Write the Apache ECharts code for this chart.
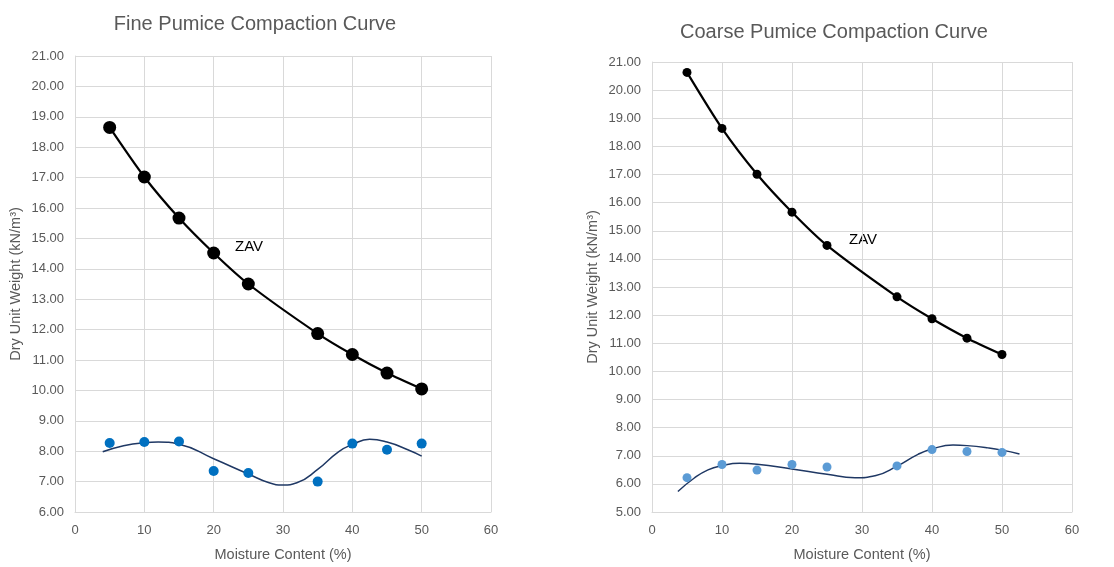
<!DOCTYPE html>
<html>
<head>
<meta charset="utf-8">
<script src="https://cdn.jsdelivr.net/npm/echarts@6/dist/echarts.min.js"></script>
<style>html,body{margin:0;padding:0;background:#fff}#c{width:1114px;height:567px}</style>
</head>
<body>
<div id="c"></div>
<script>
// ---------- data ----------
const fineMoisture = [5, 10, 15, 20, 25, 35, 40, 45, 50];
const fineZAV = [18.65, 17.02, 15.67, 14.52, 13.50, 11.87, 11.18, 10.57, 10.05];
const fineDry = [8.27, 8.30, 8.32, 7.35, 7.28, 7.00, 8.25, 8.05, 8.25];
const fineTrendX = [4, 7, 10, 12, 15, 20, 25, 28, 30, 32, 35, 38, 40, 42.5, 45, 48, 50];
const fineTrendY = [7.98, 8.18, 8.28, 8.30, 8.23, 7.75, 7.25, 6.96, 6.89, 6.96, 7.40, 7.98, 8.22, 8.39, 8.30, 8.05, 7.84];

const coarseMoisture = [5, 10, 15, 20, 25, 35, 40, 45, 50];
const coarseZAV = [20.63, 18.64, 17.01, 15.66, 14.48, 12.65, 11.87, 11.18, 10.60];
const coarseDry = [6.22, 6.69, 6.49, 6.69, 6.60, 6.64, 7.22, 7.15, 7.12];
const coarseTrendX = [3.7, 6, 8, 10, 12.5, 15, 20, 25, 29, 32, 35, 38, 40, 43, 45, 48, 50, 52.5];
const coarseTrendY = [5.73, 6.20, 6.50, 6.65, 6.73, 6.70, 6.53, 6.34, 6.22, 6.30, 6.63, 7.05, 7.24, 7.38, 7.36, 7.28, 7.20, 7.06];

const fineTitle = 'Fine Pumice Compaction Curve';
const coarseTitle = 'Coarse Pumice Compaction Curve';
const xName = 'Moisture Content (%)';
const yName = 'Dry Unit Weight (kN/m³)';

// ---------- chart ----------
const zip = (a, b) => a.map((v, i) => [v, b[i]]);
const FONT = 'Liberation Sans';
const GRAY = '#595959';
const GRID = '#d9d9d9';

function xAxis(gi) {
  return {
    gridIndex: gi, type: 'value', min: 0, max: 60, interval: 10,
    name: xName, nameLocation: 'middle', nameGap: 35,
    nameTextStyle: { color: GRAY, fontSize: 14.5, fontFamily: FONT },
    axisLine: { show: true, lineStyle: { color: GRID } },
    axisTick: { show: false },
    axisLabel: { color: GRAY, fontSize: 13, fontFamily: FONT, margin: 12 },
    splitLine: { show: true, lineStyle: { color: GRID, width: 1 } }
  };
}
function yAxis(gi, min) {
  return {
    gridIndex: gi, type: 'value', min: min, max: 21, interval: 1,
    name: yName, nameLocation: 'middle', nameGap: 52,
    nameTextStyle: { color: GRAY, fontSize: 14.5, fontFamily: FONT },
    axisLine: { show: true, lineStyle: { color: GRID } },
    axisTick: { show: false },
    axisLabel: { color: GRAY, fontSize: 13, fontFamily: FONT, margin: 11, formatter: v => v.toFixed(2) },
    splitLine: { show: true, lineStyle: { color: GRID, width: 1 } }
  };
}

const option = {
  animation: false,
  backgroundColor: '#fff',
  title: [
    { text: fineTitle, left: 250, top: 9, textAlign: 'center',
      textStyle: { color: GRAY, fontSize: 20, fontWeight: 'normal', fontFamily: FONT } },
    { text: coarseTitle, left: 829, top: 17, textAlign: 'center',
      textStyle: { color: GRAY, fontSize: 20, fontWeight: 'normal', fontFamily: FONT } }
  ],
  grid: [
    { left: 75, right: 623, top: 56, bottom: 53 },
    { left: 652, right: 42, top: 62, bottom: 52 }
  ],
  xAxis: [xAxis(0), xAxis(1)],
  yAxis: [yAxis(0, 6), yAxis(1, 5)],
  graphic: [
    { type: 'text', left: 235, top: 239, style: { text: 'ZAV', fill: '#000', font: '15px ' + FONT } },
    { type: 'text', left: 849, top: 232, style: { text: 'ZAV', fill: '#000', font: '15px ' + FONT } }
  ],
  series: [
    { type: 'line', xAxisIndex: 0, yAxisIndex: 0, data: zip(fineTrendX, fineTrendY), smooth: true,
      showSymbol: false, symbol: 'none', lineStyle: { color: '#1f3864', width: 1.5 }, z: 2 },
    { type: 'scatter', xAxisIndex: 0, yAxisIndex: 0, data: zip(fineMoisture, fineDry),
      symbolSize: 10, itemStyle: { color: '#0070c0', opacity: 1 }, z: 3 },
    { type: 'line', xAxisIndex: 0, yAxisIndex: 0, data: zip(fineMoisture, fineZAV), smooth: 0.25,
      symbol: 'circle', symbolSize: 13, itemStyle: { color: '#000' }, lineStyle: { color: '#000', width: 2.2 }, z: 4 },

    { type: 'line', xAxisIndex: 1, yAxisIndex: 1, data: zip(coarseTrendX, coarseTrendY), smooth: true,
      showSymbol: false, symbol: 'none', lineStyle: { color: '#1f3864', width: 1.5 }, z: 2 },
    { type: 'scatter', xAxisIndex: 1, yAxisIndex: 1, data: zip(coarseMoisture, coarseDry),
      symbolSize: 9, itemStyle: { color: '#5b9bd5', opacity: 1 }, z: 3 },
    { type: 'line', xAxisIndex: 1, yAxisIndex: 1, data: zip(coarseMoisture, coarseZAV), smooth: 0.25,
      symbol: 'circle', symbolSize: 9, itemStyle: { color: '#000' }, lineStyle: { color: '#000', width: 2.2 }, z: 4 }
  ]
};
echarts.init(document.getElementById('c')).setOption(option);
</script>
</body>
</html>
